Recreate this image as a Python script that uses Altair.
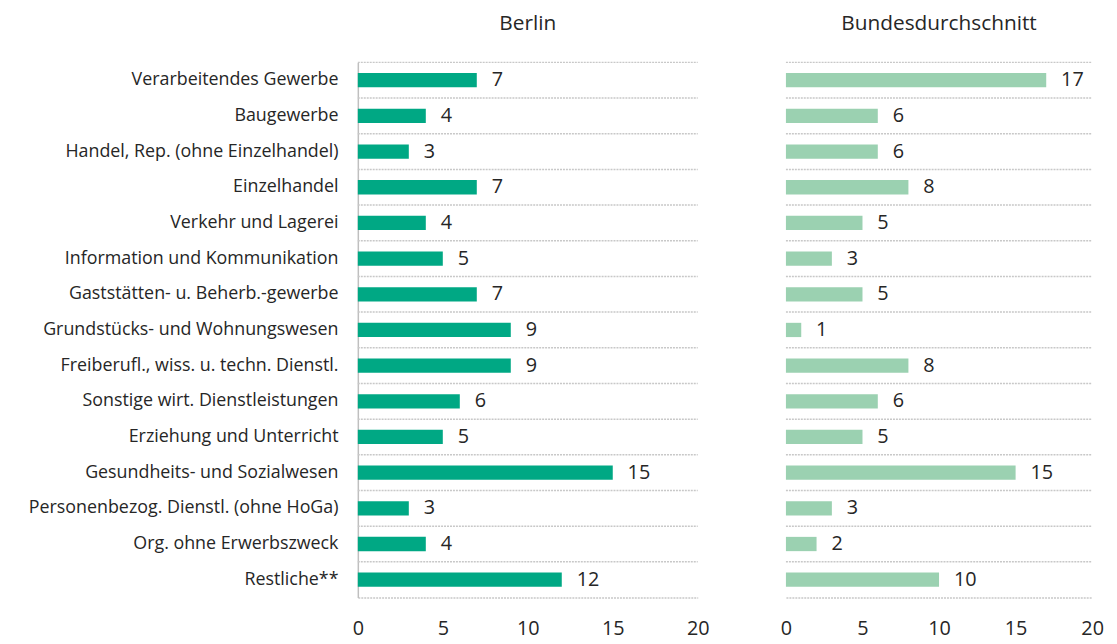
import altair as alt
import pandas as pd

categories = [
    "Verarbeitendes Gewerbe",
    "Baugewerbe",
    "Handel, Rep. (ohne Einzelhandel)",
    "Einzelhandel",
    "Verkehr und Lagerei",
    "Information und Kommunikation",
    "Gaststätten- u. Beherb.-gewerbe",
    "Grundstücks- und Wohnungswesen",
    "Freiberufl., wiss. u. techn. Dienstl.",
    "Sonstige wirt. Dienstleistungen",
    "Erziehung und Unterricht",
    "Gesundheits- und Sozialwesen",
    "Personenbezog. Dienstl. (ohne HoGa)",
    "Org. ohne Erwerbszweck",
    "Restliche**",
]
berlin = [7, 4, 3, 7, 4, 5, 7, 9, 9, 6, 5, 15, 3, 4, 12]
bund = [17, 6, 6, 8, 5, 3, 5, 1, 8, 6, 5, 15, 3, 2, 10]
x_ticks = [0, 5, 10, 15, 20]

FONT = "Open Sans"
TXT = "#262626"
GRID = "#c8c8c8"

df_b = pd.DataFrame({"cat": categories, "val": berlin})
df_d = pd.DataFrame({"cat": categories, "val": bund})

H = 540
STEP = H / len(categories)


def panel(df, title, color, w, show_labels):
    yscale = alt.Scale(domain=categories, paddingInner=0.6, paddingOuter=0.3)
    xscale = alt.Scale(domain=[0, 20], nice=False)
    if show_labels:
        yaxis = alt.Axis(
            title=None, ticks=False, grid=False, domain=True,
            domainColor="#bfbfbf", domainWidth=1.5,
            labelFont=FONT, labelFontSize=18, labelColor=TXT,
            labelPadding=20, labelLimit=400,
            minExtent=348, maxExtent=348,
        )
    else:
        yaxis = None
    xaxis = alt.Axis(
        title=None, values=x_ticks, ticks=False, grid=False,
        domain=True, domainColor=GRID, domainDash=[2, 1], domainWidth=1.5,
        labelFont=FONT, labelFontSize=20, labelColor=TXT, labelPadding=21,
        labelFlush=False,
    )
    base = alt.Chart(df)
    grid = base.mark_rule(color=GRID, strokeDash=[2, 1], strokeWidth=1.5,
                          yOffset=-STEP / 2).encode(
        y=alt.Y("cat:N", scale=yscale, sort=categories, axis=yaxis),
        x=alt.value(0), x2=alt.value(w),
    )
    bars = base.mark_bar(color=color).encode(
        y=alt.Y("cat:N", scale=yscale, sort=categories, axis=yaxis),
        x=alt.X("val:Q", scale=xscale, axis=xaxis),
    )
    labels = base.mark_text(align="left", baseline="middle", dx=15,
                            font=FONT, fontSize=20, color=TXT).encode(
        y=alt.Y("cat:N", scale=yscale, sort=categories, axis=yaxis),
        x=alt.X("val:Q", scale=xscale, axis=xaxis),
        text="val:Q",
    )
    return alt.layer(grid, bars, labels).properties(
        width=w, height=H,
        title=alt.TitleParams(title, font=FONT, fontSize=21, fontWeight="normal",
                              color=TXT, anchor="middle", offset=28),
    )


left = panel(df_b, "Berlin", "#00a884", 343, True)
right = panel(df_d, "Bundesdurchschnitt", "#9bd1b1", 309, False)

chart = alt.hconcat(left, right, spacing=89, bounds="flush").properties(
    padding={"left": 5, "top": 2, "right": 5, "bottom": 0}
).configure_view(stroke=None)

chart.save("out.html", embed_options={"renderer": "svg", "actions": False})
